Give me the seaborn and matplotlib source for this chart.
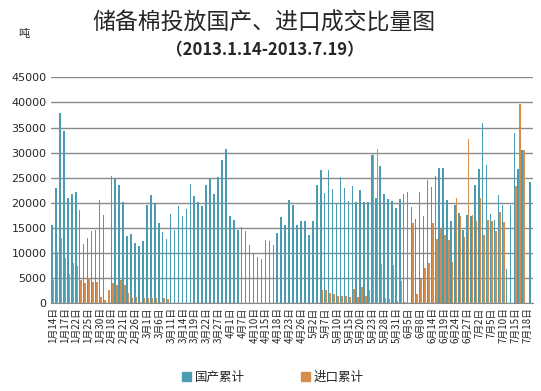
import numpy as np
import pandas as pd
import matplotlib
matplotlib.use('Agg')
import matplotlib.pyplot as plt
import seaborn as sns
from matplotlib.patches import Patch

# trading days 2013.1.14 - 2013.7.19
dates = ['1/14', '1/15', '1/16', '1/17', '1/18', '1/21', '1/22', '1/23', '1/24', '1/25',
         '1/28', '1/29', '1/30', '1/31', '2/1', '2/18', '2/19', '2/20', '2/21', '2/22',
         '2/25', '2/26', '2/27', '2/28', '3/1', '3/4', '3/5', '3/6', '3/7', '3/8',
         '3/11', '3/12', '3/13', '3/14', '3/15', '3/18', '3/19', '3/20', '3/21', '3/22',
         '3/25', '3/26', '3/27', '3/28', '3/29', '4/1', '4/2', '4/3', '4/7', '4/8',
         '4/9', '4/10', '4/11', '4/12', '4/15', '4/16', '4/17', '4/18', '4/19', '4/22',
         '4/23', '4/24', '4/25', '4/26', '4/27', '4/28', '5/2', '5/3', '5/6', '5/7',
         '5/8', '5/9', '5/10', '5/13', '5/14', '5/15', '5/16', '5/17', '5/20', '5/21',
         '5/22', '5/23', '5/24', '5/27', '5/28', '5/29', '5/30', '5/31', '6/3', '6/4',
         '6/5', '6/6', '6/7', '6/8', '6/9', '6/13', '6/14', '6/17', '6/18', '6/19',
         '6/20', '6/21', '6/24', '6/25', '6/26', '6/27', '6/28', '7/1', '7/2', '7/3',
         '7/4', '7/5', '7/8', '7/9', '7/10', '7/11', '7/12', '7/15', '7/16', '7/17',
         '7/18', '7/19']

# 国产累计 (tons)
domestic = [15600, 23000, 37900, 34300, 21000, 21700, 22100, 18600, 11800, 13000,
            14400, 14500, 20500, 17600, 0, 25300, 25000, 23500, 20100, 13400,
            13800, 12000, 11400, 12400, 19600, 21500, 20000, 15900, 14200, 12800,
            17800, 14600, 19400, 17400, 18700, 23800, 21400, 20100, 19400, 23600,
            24800, 21800, 25100, 28600, 30700, 17300, 16600, 14600, 15100, 14400,
            11600, 10000, 9200, 8800, 12600, 12400, 11600, 13900, 17200, 15600,
            20500, 19500, 15600, 16300, 16400, 13600, 16400, 23600, 26600, 22000,
            26600, 22800, 19900, 25100, 23000, 20300, 23300, 20200, 22500, 20200,
            20200, 29500, 21000, 27300, 21800, 20800, 20300, 19000, 20700, 21800,
            22100, 19200, 16800, 22100, 17400, 24500, 23100, 25400, 27000, 26900,
            20500, 16300, 19500, 17900, 14500, 17500, 17300, 23500, 26800, 35900,
            27500, 17800, 16500, 21500, 19500, 6800, 19500, 33900, 26800, 30500,
            0, 24200]

# 进口累计 (tons)
imported = [4650, 10150, 13000, 8950, 5900, 8100, 7500, 4600, 4100, 5000,
            4300, 4300, 1300, 700, 2700, 4000, 3600, 4600, 3700, 2100,
            1100, 1300, 300, 1000, 1000, 1100, 1100, 300, 1100, 900,
            0, 0, 0, 0, 0, 0, 0, 0, 0, 0,
            0, 0, 0, 0, 0, 0, 0, 0, 0, 0,
            0, 0, 0, 0, 0, 0, 0, 0, 0, 0,
            0, 0, 0, 0, 0, 0, 0, 0, 2650, 2650,
            2000, 1800, 1500, 1400, 1400, 1300, 2900, 1300, 3200, 1400,
            2650, 30000, 30800, 7800, 1000, 800, 7600, 500, 4400, 300,
            0, 16000, 1800, 4800, 7000, 8000, 16000, 12800, 14800, 13600,
            12600, 8300, 20900, 17400, 13200, 32800, 17600, 16400, 20900, 13600,
            16600, 16300, 14400, 18200, 16200, 0, 0, 23300, 39600, 30500,
            0, 0]

series_names = ['国产累计', '进口累计']
colors = ['#4B9CB1', '#D68D4B']

labels = []
for d in dates:
    m, day = d.split('/')
    labels.append(m + '月' + day + '日')

df = pd.DataFrame({'date': labels * 2,
                   'value': domestic + imported,
                   'series': [series_names[0]] * len(labels) + [series_names[1]] * len(labels)})

sns.set_style('white')
plt.rcParams['font.family'] = ['Noto Sans CJK SC', 'DejaVu Sans']

fig = plt.figure(figsize=(5.41, 3.91), dpi=100)
ax = fig.add_axes([0.094, 0.2243, 0.891, 0.578])

sns.barplot(data=df, x='date', y='value', hue='series', palette=colors,
            width=0.8, dodge=True, saturation=1, legend=False, ax=ax,
            linewidth=0, edgecolor='none')
for p in ax.patches:
    p.set_antialiased(False)

ax.set_xlim(-0.5, len(labels) - 0.5)
ax.set_ylim(0, 45000)
ax.set_yticks(np.arange(0, 45001, 5000))
ax.set_yticklabels([str(v) for v in range(0, 45001, 5000)], fontsize=8, family='DejaVu Sans')
ax.yaxis.grid(True, color='#8a8a8a', linewidth=1)
ax.set_axisbelow(True)
ticks = list(range(0, len(labels), 3))
ax.set_xticks(ticks)
ax.set_xticklabels([labels[i] for i in ticks], rotation=90, fontsize=7)
ax.tick_params(axis='both', length=0, pad=3)
ax.set_xlabel('')
ax.set_ylabel('')
for s in ['top', 'right', 'left']:
    ax.spines[s].set_visible(False)
ax.spines['bottom'].set_color('#8a8a8a')

fig.text(0.487, 0.942, '储备棉投放国产、进口成交比量图', ha='center', va='center',
         fontsize=16.5, weight='medium')
fig.text(0.49, 0.871, '（2013.1.14-2013.7.19）', ha='center', va='center', fontsize=12, weight='bold')
fig.text(0.043, 0.912, '吨', ha='center', va='center', fontsize=8)

handles = [Patch(color=c) for c in colors]
fig.legend(handles, series_names, loc='center', bbox_to_anchor=(0.504, 0.035), ncol=2,
           frameon=False, fontsize=9, handlelength=0.7, handleheight=0.7,
           handletextpad=0.3, columnspacing=4.5)

fig.savefig('out.png', dpi=100)
